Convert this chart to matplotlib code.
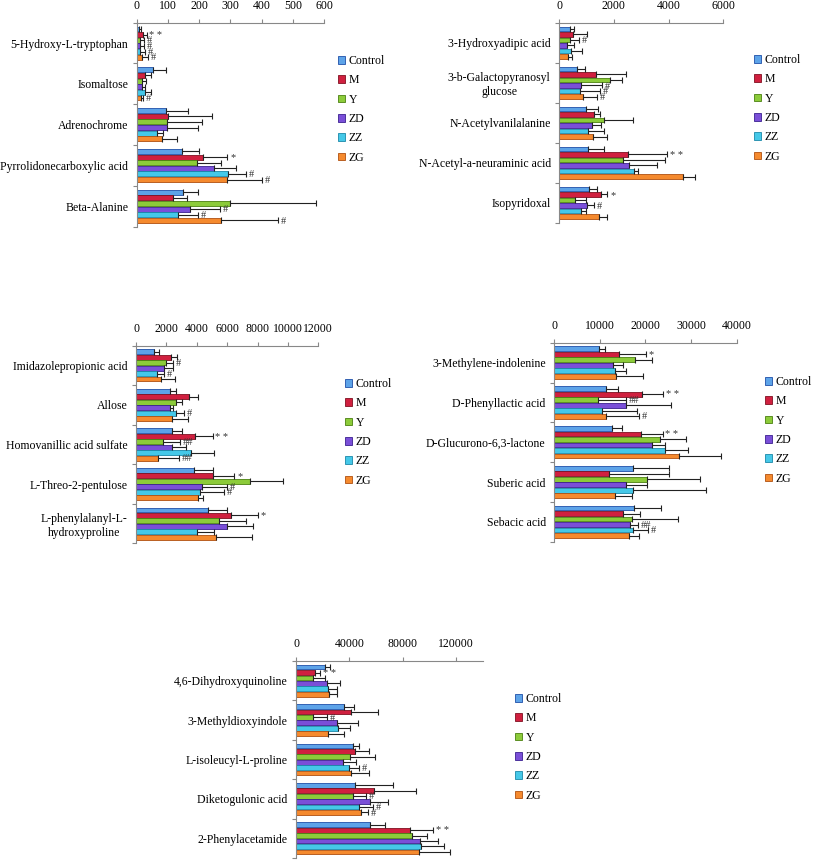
import numpy as np
import matplotlib
matplotlib.use("Agg")
import matplotlib.pyplot as plt

plt.rcParams['font.family'] = ['Liberation Serif', 'DejaVu Serif']

groups = ['Control', 'M', 'Y', 'ZD', 'ZZ', 'ZG']
face_colors = ['#5DA3E8', '#D0203F', '#8CCB3A', '#7A4FD8', '#45C8E8', '#F58A2E']
edge_colors = ['#1F4FA8', '#801020', '#4A8010', '#3A2090', '#1A88A8', '#B05010']

# ---- panel 1 ----
cats1 = ['5-Hydroxy-L-tryptophan', 'Isomaltose', 'Adrenochrome',
         'Pyrrolidonecarboxylic acid', 'Beta-Alanine']
vals1 = {
    'Control': [8, 53, 93, 144, 147],
    'M': [20, 27, 99, 213, 115],
    'Y': [12, 16, 96, 192, 299],
    'ZD': [10, 18, 98, 248, 171],
    'ZZ': [12, 25, 66, 294, 133],
    'ZG': [18, 14, 80, 290, 269],
}
errs1 = {
    'Control': [5, 41, 72, 57, 48],
    'M': [12, 18, 141, 77, 47],
    'Y': [12, 13, 114, 78, 275],
    'ZD': [12, 9, 97, 69, 96],
    'ZZ': [15, 20, 19, 55, 62],
    'ZG': [18, 5, 48, 110, 185],
}
marks1 = {
    'Control': ['', '', '', '', ''],
    'M': ['* *', '', '', '*', ''],
    'Y': ['#', '', '', '', ''],
    'ZD': ['#', '', '', '', '#'],
    'ZZ': ['#', '', '', '#', '#'],
    'ZG': ['#', '#', '', '#', '#'],
}
ticks1 = [0, 100, 200, 300, 400, 500, 600]

# ---- panel 2 ----
cats2 = ['3-Hydroxyadipic acid', '3-b-Galactopyranosyl\nglucose', 'N-Acetylvanilalanine',
         'N-Acetyl-a-neuraminic acid', 'Isopyridoxal']
vals2 = {
    'Control': [400, 645, 975, 1045, 1105],
    'M': [520, 1340, 1290, 2505, 1530],
    'Y': [400, 1860, 1655, 2350, 585],
    'ZD': [300, 790, 1190, 2570, 1010],
    'ZZ': [430, 770, 1070, 2750, 805],
    'ZG': [320, 890, 1230, 4515, 1460],
}
errs2 = {
    'Control': [150, 305, 435, 610, 295],
    'M': [490, 1105, 210, 1450, 235],
    'Y': [340, 430, 1060, 1520, 390],
    'ZD': [250, 770, 340, 995, 280],
    'ZZ': [400, 730, 570, 120, 170],
    'ZG': [140, 485, 535, 450, 280],
}
marks2 = {
    'Control': ['', '', '', '', ''],
    'M': ['', '', '', '* *', '*'],
    'Y': ['#', '', '', '', ''],
    'ZD': ['', '#', '', '', '#'],
    'ZZ': ['', '#', '', '', ''],
    'ZG': ['', '#', '', '', ''],
}
ticks2 = [0, 2000, 4000, 6000]

# ---- panel 3 ----
cats3 = ['Imidazolepropionic acid', 'Allose', 'Homovanillic acid sulfate',
         'L-Threo-2-pentulose', 'L-phenylalanyl-L-\nhydroxyproline']
vals3 = {
    'Control': [1185, 2240, 2390, 3815, 4715],
    'M': [2280, 3490, 3880, 5090, 6230],
    'Y': [1950, 2610, 1755, 7500, 5485],
    'ZD': [1840, 2240, 2390, 4365, 5970],
    'ZZ': [1360, 2630, 3600, 4210, 4035],
    'ZG': [1645, 2390, 1470, 4100, 5265],
}
errs3 = {
    'Control': [350, 370, 660, 1230, 1295],
    'M': [440, 570, 1165, 1380, 1780],
    'Y': [505, 395, 1140, 2150, 1735],
    'ZD': [575, 215, 880, 1605, 1710],
    'ZZ': [480, 530, 1535, 1580, 1120],
    'ZG': [920, 1010, 1360, 330, 2345],
}
marks3 = {
    'Control': ['', '', '', '', ''],
    'M': ['', '', '* *', '*', '*'],
    'Y': ['#', '', '##', '', ''],
    'ZD': ['', '', '', '#', ''],
    'ZZ': ['#', '#', '', '#', ''],
    'ZG': ['', '', '##', '', ''],
}
ticks3 = [0, 2000, 4000, 6000, 8000, 10000, 12000]

# ---- panel 4 ----
cats4 = ['3-Methylene-indolenine', 'D-Phenyllactic acid', 'D-Glucurono-6,3-lactone',
         'Suberic acid', 'Sebacic acid']
vals4 = {
    'Control': [9930, 11390, 12630, 17370, 17590],
    'M': [14310, 19340, 18980, 12120, 15040],
    'Y': [17740, 9710, 23210, 20290, 17150],
    'ZD': [12990, 15690, 21390, 15690, 16640],
    'ZZ': [13360, 10440, 24310, 17230, 17230],
    'ZG': [13580, 11390, 27450, 13360, 16420],
}
errs4 = {
    'Control': [1240, 2700, 2190, 7890, 5840],
    'M': [5760, 4600, 4820, 13140, 3790],
    'Y': [3790, 6060, 5620, 11680, 10080],
    'ZD': [2190, 9930, 2920, 4600, 1680],
    'ZZ': [2330, 7810, 5110, 16050, 3430],
    'ZG': [5980, 7300, 9050, 3650, 2190],
}
marks4 = {
    'Control': ['', '', '', '', ''],
    'M': ['*', '* *', '* *', '', ''],
    'Y': ['', '##', '', '', ''],
    'ZD': ['', '', '', '', '##'],
    'ZZ': ['', '', '', '', '#'],
    'ZG': ['', '#', '', '', ''],
}
ticks4 = [0, 10000, 20000, 30000, 40000]

# ---- panel 5 ----
cats5 = ['4,6-Dihydroxyquinoline', '3-Methyldioxyindole', 'L-isoleucyl-L-proline',
         'Diketogulonic acid', '2-Phenylacetamide']
vals5 = {
    'Control': [22000, 35750, 42500, 44250, 55750],
    'M': [14500, 41250, 44250, 58250, 85750],
    'Y': [12500, 12500, 40500, 42500, 86750],
    'ZD': [23250, 30750, 35500, 55750, 93000],
    'ZZ': [24250, 31250, 39500, 47000, 93500],
    'ZG': [24500, 23750, 41250, 48750, 92000],
}
errs5 = {
    'Control': [3500, 7500, 5000, 28750, 11000],
    'M': [3500, 20500, 10750, 31750, 17250],
    'Y': [9000, 10750, 19000, 10000, 11250],
    'ZD': [10000, 15500, 9500, 13000, 13250],
    'ZZ': [6250, 9500, 8000, 10500, 17250],
    'ZG': [6250, 12500, 13750, 5000, 23500],
}
marks5 = {
    'Control': ['', '', '', '', ''],
    'M': ['* *', '', '', '', '* *'],
    'Y': ['', '#', '', '#', ''],
    'ZD': ['', '', '', '', ''],
    'ZZ': ['', '', '#', '#', ''],
    'ZG': ['', '', '', '#', ''],
}
ticks5 = [0, 40000, 80000, 120000]


def draw_panel(fig, rect, cats, vals, errs, marks, ticks, xmax, legend_xy):
    ax = fig.add_axes(rect)
    n = len(cats)
    centers = np.arange(n)
    step = 0.138
    for k, g in enumerate(groups):
        y = centers + (k - 2.5) * step
        ax.barh(y, vals[g], height=0.12, color=face_colors[k],
                edgecolor=edge_colors[k], linewidth=0.6, label=g,
                xerr=[np.zeros(n), errs[g]],
                error_kw=dict(ecolor='#222222', elinewidth=0.8, capsize=2.2, capthick=0.8))
        for i in range(n):
            if marks[g][i]:
                ax.annotate(marks[g][i], (vals[g][i] + errs[g][i], y[i]),
                            xytext=(2, -0.5), textcoords='offset points',
                            va='center', ha='left', fontsize=7.5, color='#333333')
    ax.set_xlim(0, xmax)
    ax.set_ylim(n - 0.5, -0.5)
    ax.xaxis.tick_top()
    ax.set_xticks(ticks)
    ax.set_xticklabels([str(t) for t in ticks])
    ax.tick_params(axis='x', length=3, pad=5, labelsize=8.5, color='#888888')
    ax.set_yticks(np.arange(n + 1) - 0.5)
    ax.set_yticklabels([])
    ax.set_yticks(centers, minor=True)
    ax.set_yticklabels(cats, minor=True, multialignment='center')
    ax.tick_params(axis='y', which='major', length=3, color='#888888')
    ax.tick_params(axis='y', which='minor', length=0, pad=6, labelsize=8.5)
    for s in ['right', 'bottom']:
        ax.spines[s].set_visible(False)
    for s in ['left', 'top']:
        ax.spines[s].set_color('#888888')
        ax.spines[s].set_linewidth(0.8)
    fig.legend(*ax.get_legend_handles_labels(), loc='upper left',
               bbox_to_anchor=(legend_xy[0] / 813, 1 - legend_xy[1] / 861),
               frameon=False, fontsize=8.5, handlelength=0.6, handleheight=0.6,
               handletextpad=0.3, labelspacing=0.62, borderpad=0, borderaxespad=0)
    return ax


fig = plt.figure(figsize=(8.13, 8.61), dpi=100)

draw_panel(fig, [136.7 / 813, 1 - 226.7 / 861, 187.3 / 813, 204 / 861],
           cats1, vals1, errs1, marks1, ticks1, 600, (338, 55))
draw_panel(fig, [559 / 813, 1 - 222.7 / 861, 164.3 / 813, 200 / 861],
           cats2, vals2, errs2, marks2, ticks2, 6000, (754, 54))
draw_panel(fig, [136 / 813, 1 - 543.3 / 861, 182.3 / 813, 197.6 / 861],
           cats3, vals3, errs3, marks3, ticks3, 12000, (345, 378))
draw_panel(fig, [554 / 813, 1 - 541.7 / 861, 182.7 / 813, 199 / 861],
           cats4, vals4, errs4, marks4, ticks4, 40000, (765, 376))
draw_panel(fig, [296 / 813, 1 - 858 / 861, 186.7 / 813, 197 / 861],
           cats5, vals5, errs5, marks5, ticks5, 140000, (515, 693))

fig.savefig('out.png', dpi=100)
